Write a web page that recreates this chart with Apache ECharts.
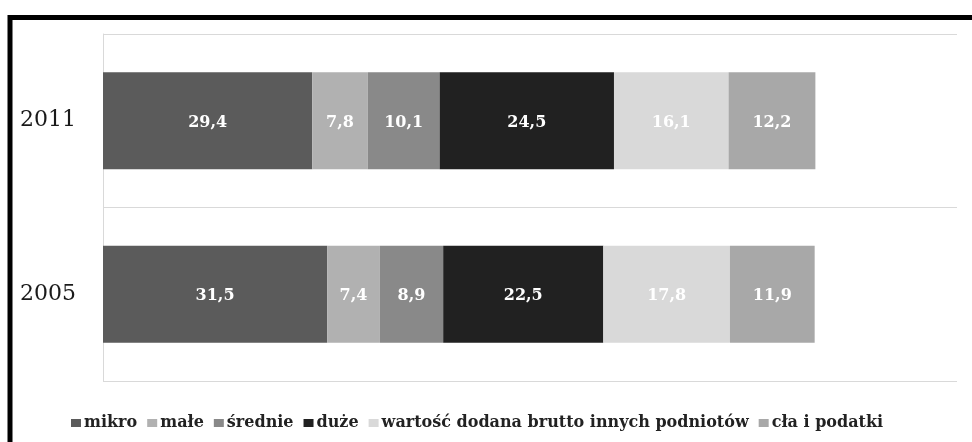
<!DOCTYPE html>
<html>
<head>
<meta charset="utf-8">
<script src="https://cdn.jsdelivr.net/npm/echarts@6/dist/echarts.min.js"></script>
<style>
  html, body { margin: 0; padding: 0; background: #ffffff; }
  #chart { width: 972px; height: 442px; }
</style>
</head>
<body>
<div id="chart"></div>
<script>
// Years on the category axis (bottom to top)
const years = ['2005', '2011'];

// Share of each group in value added, per year (2005, 2011)
const mikro = [31.5, 29.4];
const male = [7.4, 7.8];
const srednie = [8.9, 10.1];
const duze = [22.5, 24.5];
const inne = [17.8, 16.1];
const claPodatki = [11.9, 12.2];

const seriesNames = ['mikro', 'małe', 'średnie', 'duże', 'wartość dodana brutto innych podniotów', 'cła i podatki'];
const seriesValues = [mikro, male, srednie, duze, inne, claPodatki];
const seriesColors = ['#5b5b5b', '#b1b1b1', '#898989', '#212121', '#d9d9d9', '#a8a8a8'];

const serif = 'DejaVu Serif';

const chart = echarts.init(document.getElementById('chart'));

chart.setOption({
  animation: false,
  backgroundColor: '#ffffff',
  graphic: [{
    type: 'rect',
    shape: { x: 10, y: 17.5, width: 1200, height: 800 },
    style: { fill: 'none', stroke: '#000000', lineWidth: 5 },
    silent: true
  }],
  grid: { left: 103, top: 34, right: 15, bottom: 61 },
  legend: {
    bottom: 6,
    left: 66,
    itemWidth: 10,
    itemHeight: 8,
    itemGap: 10,
    icon: 'rect',
    textStyle: { fontFamily: serif, fontSize: 16, fontWeight: 'bold', color: '#222222', padding: [0, 0, 0, -2] },
    data: seriesNames
  },
  xAxis: {
    type: 'value',
    min: 0,
    max: 120,
    show: false
  },
  yAxis: {
    type: 'category',
    data: years,
    axisLine: { show: true, lineStyle: { color: '#d9d9d9', width: 1 } },
    axisTick: { show: false },
    splitLine: { show: true, lineStyle: { color: '#d9d9d9', width: 1 } },
    axisLabel: { fontFamily: serif, fontSize: 22, color: '#1a1a1a', margin: 27 }
  },
  series: seriesNames.map((name, i) => ({
    name: name,
    type: 'bar',
    stack: 'total',
    barWidth: '56%',
    data: seriesValues[i],
    itemStyle: { color: seriesColors[i] },
    label: {
      show: true,
      position: 'inside',
      offset: [0, 2],
      fontFamily: serif,
      fontSize: 16,
      fontWeight: 'bold',
      color: '#ffffff',
      formatter: p => String(p.value).replace('.', ',')
    }
  }))
});
</script>
</body>
</html>
